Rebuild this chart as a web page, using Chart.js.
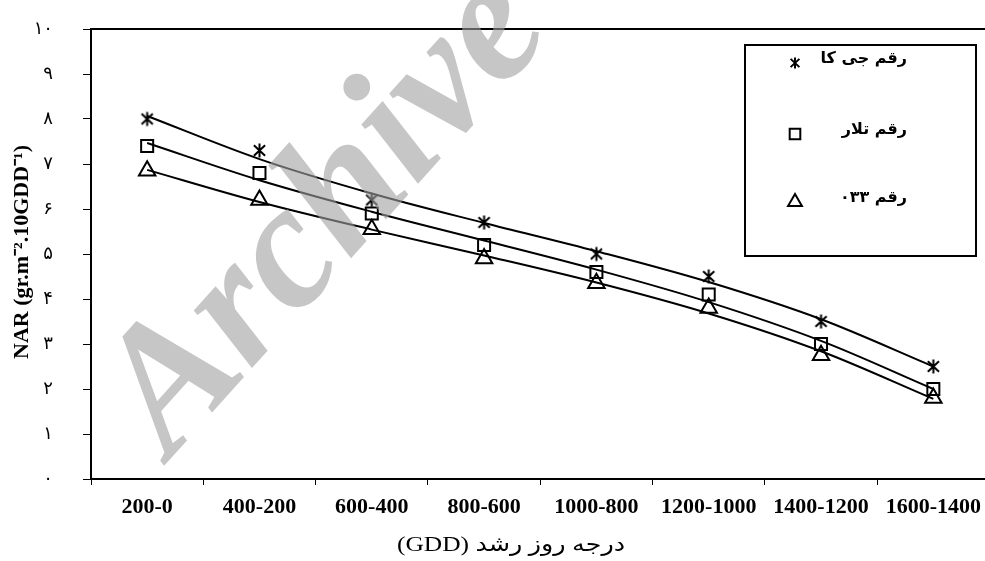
<!DOCTYPE html>
<html>
<head>
<meta charset="utf-8">
<script src="https://cdn.jsdelivr.net/npm/chart.js@4.4.1/dist/chart.umd.min.js"></script>
<style>
  html, body { margin: 0; padding: 0; background: #fff; overflow: hidden; }
  #wrap { width: 1001px; height: 561px; position: relative; }
</style>
</head>
<body>
<div id="wrap"><canvas id="nar"></canvas></div>
<script>
const categories = ['200-0', '400-200', '600-400', '800-600', '1000-800', '1200-1000', '1400-1200', '1600-1400'];
const seriesNames = ['رقم جی کا', 'رقم تلار', 'رقم ۰۳۳'];
const jk = [8.0, 7.3, 6.2, 5.7, 5.0, 4.5, 3.5, 2.5];
const talar = [7.4, 6.8, 5.9, 5.2, 4.6, 4.1, 3.0, 2.0];
const r033 = [6.85, 6.2, 5.55, 4.9, 4.35, 3.8, 2.75, 1.8];
const yTickLabels = ['۰', '۱', '۲', '۳', '۴', '۵', '۶', '۷', '۸', '۹', '۱۰'];
const yTitle = 'NAR (gr.m⁻².10GDD⁻¹)';
const xTitle = 'درجه روز رشد (GDD)';

// asterisk marker (X plus vertical bar), like the spreadsheet one
function makeStar(size) {
    const c = document.createElement('canvas');
    c.width = size; c.height = size;
    const g = c.getContext('2d');
    const m = size / 2, r = size / 2 - 1.5;
    g.strokeStyle = '#000';
    g.lineWidth = 2;
    g.beginPath();
    g.moveTo(m, m - r); g.lineTo(m, m + r);
    g.moveTo(m - r * 0.8, m - r * 0.75); g.lineTo(m + r * 0.8, m + r * 0.75);
    g.moveTo(m + r * 0.8, m - r * 0.75); g.lineTo(m - r * 0.8, m + r * 0.75);
    g.stroke();
    return c;
}
const starBig = makeStar(17);
const starSmall = makeStar(14);

// polynomial trend line (least squares, order 3), evaluated at each category
function trend(ys, deg) {
    const m = deg + 1;
    const A = [];
    for (let i = 0; i < m; i++) {
        A.push(new Array(m + 1).fill(0));
        ys.forEach((y, x) => {
            for (let k = 0; k < m; k++) A[i][k] += Math.pow(x, i + k);
            A[i][m] += y * Math.pow(x, i);
        });
    }
    for (let i = 0; i < m; i++) {
        for (let j = i + 1; j < m; j++) {
            const f = A[j][i] / A[i][i];
            for (let k = i; k <= m; k++) A[j][k] -= f * A[i][k];
        }
    }
    const c = new Array(m).fill(0);
    for (let i = m - 1; i >= 0; i--) {
        let v = A[i][m];
        for (let k = i + 1; k < m; k++) v -= A[i][k] * c[k];
        c[i] = v / A[i][i];
    }
    return ys.map((_, x) => c.reduce((s, ck, k) => s + ck * Math.pow(x, k), 0));
}

const markers = [
    { pointStyle: starBig, radius: 8, legendStyle: starSmall, legendRadius: 7 },
    { pointStyle: 'rect', radius: 8.5, legendStyle: 'rect', legendRadius: 7.5 },
    { pointStyle: 'triangle', radius: 9.5, legendStyle: 'triangle', legendRadius: 8 }
];
const allSeries = [jk, talar, r033];

const datasets = [];
allSeries.forEach((vals, i) => {
    datasets.push({
        label: seriesNames[i] + ' trend',
        data: trend(vals, 3),
        borderColor: '#000',
        borderWidth: 2,
        pointRadius: 0,
        fill: false,
        cubicInterpolationMode: 'monotone',
        order: 2
    });
});
allSeries.forEach((vals, i) => {
    datasets.push({
        label: seriesNames[i],
        data: vals,
        showLine: false,
        pointStyle: markers[i].pointStyle,
        pointRadius: markers[i].radius,
        pointBorderColor: '#000',
        pointBackgroundColor: 'rgba(0,0,0,0)',
        pointBorderWidth: 2,
        order: 1
    });
});

const extras = {
    id: 'extras',
    afterDatasetsDraw(chart) {
        const ctx = chart.ctx;
        const a = chart.chartArea;
        ctx.save();
        // top frame line
        ctx.strokeStyle = '#000';
        ctx.lineWidth = 2;
        ctx.beginPath();
        ctx.moveTo(a.left, a.top);
        ctx.lineTo(a.right + 2, a.top);
        ctx.stroke();

        // legend box
        ctx.fillStyle = '#fff';
        ctx.fillRect(745, 45, 231, 211);
        ctx.strokeRect(745, 45, 231, 211);
        const rows = [63, 134, 202];
        seriesNames.forEach((name, i) => {
            ctx.fillStyle = 'rgba(0,0,0,0)';
            ctx.strokeStyle = '#000';
            Chart.helpers.drawPoint(ctx, {
                pointStyle: markers[i].legendStyle,
                radius: markers[i].legendRadius,
                borderWidth: 2
            }, 795, rows[i]);
            ctx.fillStyle = '#000';
            ctx.font = 'bold 16px "DejaVu Sans"';
            ctx.direction = 'rtl';
            ctx.textAlign = 'right';
            ctx.textBaseline = 'middle';
            ctx.fillText(name, 907, rows[i] - 4);
        });

        // axis titles
        ctx.direction = 'ltr';
        ctx.fillStyle = '#000';
        ctx.save();
        ctx.translate(22, 252);
        ctx.rotate(-Math.PI / 2);
        ctx.font = 'bold 22px "Liberation Serif"';
        ctx.textAlign = 'center';
        ctx.textBaseline = 'middle';
        ctx.fillText(yTitle, 0, 0);
        ctx.restore();

        ctx.save();
        ctx.direction = 'rtl';
        ctx.font = '21px "Liberation Serif", "DejaVu Sans"';
        ctx.textAlign = 'center';
        ctx.textBaseline = 'middle';
        const w = ctx.measureText(xTitle).width;
        ctx.translate(511, 545);
        ctx.scale(228 / w, 1);
        ctx.fillText(xTitle, 0, 0);
        ctx.restore();
        ctx.restore();
    },
    afterDraw(chart) {
        // watermark
        const ctx = chart.ctx;
        ctx.save();
        ctx.translate(362, 246);
        ctx.rotate(-48 * Math.PI / 180);
        ctx.font = 'italic bold 178px "Liberation Serif"';
        ctx.fillStyle = 'rgba(160,160,160,0.6)';
        ctx.textAlign = 'center';
        ctx.textBaseline = 'alphabetic';
        ctx.fillText('Archive', 0, 0);
        ctx.restore();
    }
};

new Chart(document.getElementById('nar'), {
    type: 'line',
    data: { labels: categories, datasets: datasets },
    options: {
        responsive: true,
        maintainAspectRatio: false,
        animation: false,
        layout: { padding: { top: 29, right: 1, left: 0, bottom: 0 } },
        plugins: { legend: { display: false }, tooltip: { enabled: false } },
        scales: {
            x: {
                offset: true,
                grid: { display: true, drawOnChartArea: false, offset: true, tickLength: 6, color: '#000', lineWidth: 1 },
                border: { color: '#000', width: 2 },
                ticks: {
                    color: '#000',
                    padding: 9,
                    maxRotation: 0,
                    autoSkip: false,
                    font: { family: 'Liberation Serif', size: 22, weight: 'bold' }
                },
                afterFit(s) { s.height = 82; s.paddingLeft = 0; s.paddingRight = 0; }
            },
            y: {
                min: 0,
                max: 10,
                grid: { display: true, drawOnChartArea: false, tickLength: 8, color: '#000', lineWidth: 1 },
                border: { color: '#000', width: 2 },
                ticks: {
                    stepSize: 1,
                    color: '#000',
                    padding: 30,
                    font: { family: 'DejaVu Sans', size: 18 },
                    callback: v => yTickLabels[v]
                },
                afterFit(s) { s.width = 91; s.paddingTop = 0; s.paddingBottom = 0; }
            }
        }
    },
    plugins: [extras]
});
</script>
</body>
</html>
